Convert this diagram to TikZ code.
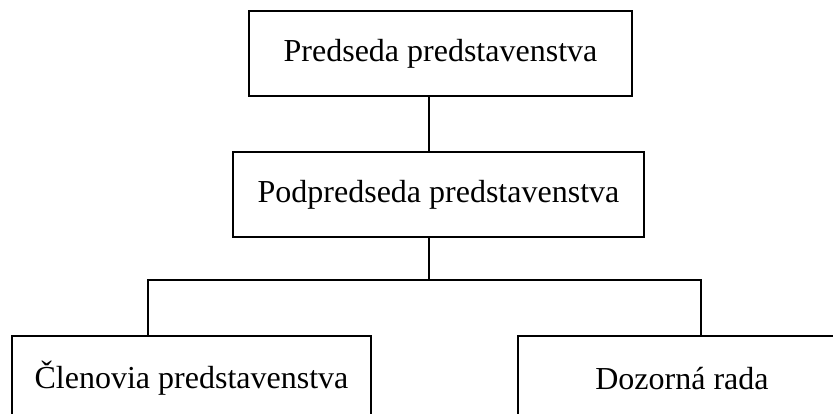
\documentclass[tikz,border=0pt]{standalone}
\usepackage{fontspec}
\setmainfont{Liberation Serif}
\usepackage{tikz}
\usetikzlibrary{calc}

\begin{document}
\begin{tikzpicture}[x=0.75pt,y=-0.75pt,
    orgbox/.style={draw=black, line width=0.9pt, fill=white, inner sep=0pt,
                   minimum height=63.75pt, font=\fontsize{24}{28}\selectfont},
    orgline/.style={draw=black, line width=0.9pt}]
            \clip (0,0) rectangle (833,414);
            \fill[white] (0,0) rectangle (833,414);
            % boxes
            \node[orgbox, minimum width=287.25pt] (chair)   at (440.5, 53.5) {Predseda predstavenstva};
            \node[orgbox, minimum width=308.25pt] (vice)    at (438.5,194.5) {Podpredseda predstavenstva};
            \node[orgbox, minimum width=269.25pt] (members) at (191.5,378.5) {Členovia predstavenstva};
            \node[orgbox, minimum width=246.00pt] (board)   at (682.0,378.5) {Dozorná rada};
            % connectors
            \coordinate (fork)  at (429,280);
            \coordinate (forkL) at (148,280);
            \coordinate (forkR) at (701,280);
            \draw[orgline] (chair.south -| fork) -- (vice.north -| fork);
            \draw[orgline] (vice.south -| fork) -- (fork);
            \draw[orgline] (members.north -| forkL) -- (forkL) -- (forkR) -- (board.north -| forkR);
        \end{tikzpicture}
\end{document}
